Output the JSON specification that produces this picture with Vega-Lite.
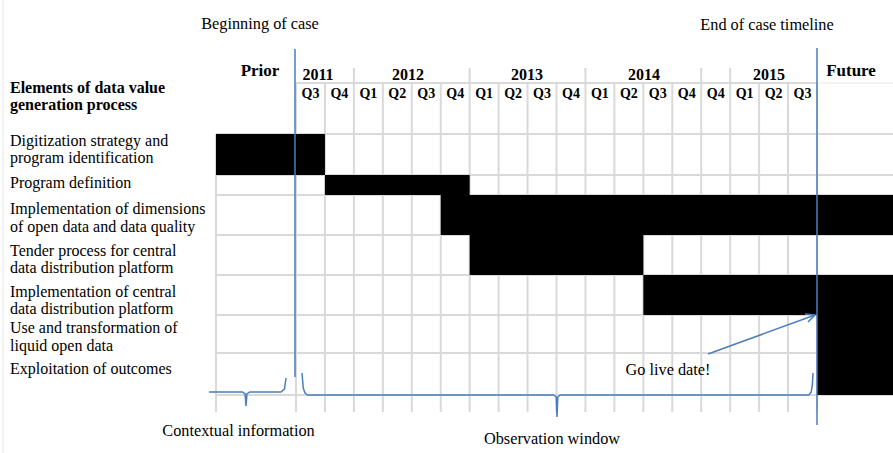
{
  "$schema": "https://vega.github.io/schema/vega-lite/v6.json",
  "width": 893,
  "height": 453,
  "padding": 0,
  "autosize": {"type": "none"},
  "background": "white",
  "config": {"view": {"stroke": null}, "text": {"font": "Liberation Serif", "color": "black"}},
  "datasets": {
    "grid": [
      {"x": -2.764, "x2": -2.764, "y": 134, "y2": 412},
      {"x": 0, "x2": 0, "y": 83, "y2": 412},
      {"x": 1, "x2": 1, "y": 83, "y2": 412},
      {"x": 2, "x2": 2, "y": 68, "y2": 412},
      {"x": 3, "x2": 3, "y": 83, "y2": 412},
      {"x": 4, "x2": 4, "y": 83, "y2": 412},
      {"x": 5, "x2": 5, "y": 83, "y2": 412},
      {"x": 6, "x2": 6, "y": 68, "y2": 412},
      {"x": 7, "x2": 7, "y": 83, "y2": 412},
      {"x": 8, "x2": 8, "y": 83, "y2": 412},
      {"x": 9, "x2": 9, "y": 83, "y2": 412},
      {"x": 10, "x2": 10, "y": 68, "y2": 412},
      {"x": 11, "x2": 11, "y": 83, "y2": 412},
      {"x": 12, "x2": 12, "y": 83, "y2": 412},
      {"x": 13, "x2": 13, "y": 83, "y2": 412},
      {"x": 14, "x2": 14, "y": 68, "y2": 412},
      {"x": 15, "x2": 15, "y": 68, "y2": 412},
      {"x": 16, "x2": 16, "y": 83, "y2": 412},
      {"x": 17, "x2": 17, "y": 83, "y2": 412},
      {"x": 18, "x2": 18, "y": 83, "y2": 412},
      {"x": 0, "x2": 18, "y": 83, "y2": 83},
      {"x": -2.764, "x2": 20.626, "y": 134, "y2": 134},
      {"x": -2.764, "x2": 20.626, "y": 175, "y2": 175},
      {"x": -2.764, "x2": 20.626, "y": 195, "y2": 195},
      {"x": -2.764, "x2": 20.626, "y": 235, "y2": 235},
      {"x": -2.764, "x2": 20.626, "y": 275, "y2": 275},
      {"x": -2.764, "x2": 20.626, "y": 315, "y2": 315},
      {"x": -2.764, "x2": 20.626, "y": 353, "y2": 353},
      {"x": -2.764, "x2": 20.626, "y": 395, "y2": 395}
    ],
    "faint": [
      {"x": 18, "x2": 20.626, "y": 83, "y2": 83},
      {"x": -10.123, "x2": -10.123, "y": 0, "y2": 453}
    ],
    "tasks": [
      {"task": "Digitization strategy and program identification", "start": -2.764, "end": 1, "top": 134, "bottom": 175},
      {"task": "Program definition", "start": 1, "end": 6, "top": 175, "bottom": 195},
      {"task": "Implementation of dimensions of open data and data quality", "start": 5, "end": 20.626, "top": 195, "bottom": 235},
      {"task": "Tender process for central data distribution platform", "start": 6, "end": 12, "top": 235, "bottom": 275},
      {"task": "Implementation of central data distribution platform", "start": 12, "end": 20.626, "top": 275, "bottom": 315},
      {"task": "Use and transformation of liquid open data", "start": 18, "end": 20.626, "top": 315, "bottom": 353},
      {"task": "Exploitation of outcomes", "start": 18, "end": 20.626, "top": 353, "bottom": 395}
    ],
    "markers": [
      {"name": "Beginning of case", "x": -0.035, "y": 49, "y2": 377},
      {"name": "End of case timeline", "x": 18, "y": 48, "y2": 425}
    ],
    "shapes": [
      {"shape": "context", "i": 0, "x": -3.006, "y": 392},
      {"shape": "context", "i": 1, "x": -1.85, "y": 392},
      {"shape": "context", "i": 2, "x": -1.76, "y": 394},
      {"shape": "context", "i": 3, "x": -1.727, "y": 406},
      {"shape": "context", "i": 4, "x": -1.694, "y": 394},
      {"shape": "context", "i": 5, "x": -1.6, "y": 392},
      {"shape": "context", "i": 6, "x": -0.52, "y": 392},
      {"shape": "context", "i": 7, "x": -0.4, "y": 389},
      {"shape": "context", "i": 8, "x": -0.345, "y": 378},
      {"shape": "window", "i": 0, "x": 0.207, "y": 373},
      {"shape": "window", "i": 1, "x": 0.25, "y": 388},
      {"shape": "window", "i": 2, "x": 0.311, "y": 393},
      {"shape": "window", "i": 3, "x": 0.4, "y": 395},
      {"shape": "window", "i": 4, "x": 8.9, "y": 395},
      {"shape": "window", "i": 5, "x": 8.99, "y": 397},
      {"shape": "window", "i": 6, "x": 9.017, "y": 417},
      {"shape": "window", "i": 7, "x": 9.045, "y": 397},
      {"shape": "window", "i": 8, "x": 9.13, "y": 395},
      {"shape": "window", "i": 9, "x": 17.72, "y": 395},
      {"shape": "window", "i": 10, "x": 17.8, "y": 392},
      {"shape": "window", "i": 11, "x": 17.84, "y": 385},
      {"shape": "window", "i": 12, "x": 17.862, "y": 373},
      {"shape": "arrow", "i": 0, "x": 14.234, "y": 354},
      {"shape": "arrow", "i": 1, "x": 17.931, "y": 315},
      {"shape": "head", "i": 0, "x": 17.586, "y": 314},
      {"shape": "head", "i": 1, "x": 17.931, "y": 315},
      {"shape": "head", "i": 2, "x": 17.689, "y": 322}
    ],
    "rowLabels": [
      {"text": "Digitization  strategy and", "x": -9.882, "y": 146},
      {"text": "program identification", "x": -9.882, "y": 163},
      {"text": "Program definition", "x": -9.882, "y": 188},
      {"text": "Implementation  of dimensions", "x": -9.882, "y": 214},
      {"text": "of open data and data quality", "x": -9.882, "y": 232},
      {"text": "Tender process for central", "x": -9.882, "y": 256},
      {"text": "data distribution  platform", "x": -9.882, "y": 273},
      {"text": "Implementation  of central", "x": -9.882, "y": 297},
      {"text": "data distribution  platform", "x": -9.882, "y": 314},
      {"text": "Use and transformation of", "x": -9.882, "y": 333},
      {"text": "liquid  open data", "x": -9.882, "y": 351},
      {"text": "Exploitation  of outcomes", "x": -9.882, "y": 374}
    ],
    "notes": [
      {"text": "Beginning  of case", "x": -1.244, "y": 29},
      {"text": "End of case timeline", "x": 16.273, "y": 30},
      {"text": "Go live  date!", "x": 12.852, "y": 375},
      {"text": "Contextual information", "x": -1.987, "y": 436},
      {"text": "Observation window", "x": 8.845, "y": 444}
    ],
    "header": [
      {"text": "Elements of data value", "x": -9.882, "y": 93},
      {"text": "generation process", "x": -9.882, "y": 110}
    ],
    "periods": [
      {"text": "Prior", "x": -1.244, "y": 76},
      {"text": "Future", "x": 19.175, "y": 76}
    ],
    "years": [
      {"text": "2011", "x": 0.76, "y": 80},
      {"text": "2012", "x": 3.87, "y": 80},
      {"text": "2013", "x": 7.98, "y": 80},
      {"text": "2014", "x": 12.02, "y": 80},
      {"text": "2015", "x": 16.34, "y": 80}
    ],
    "quarters": [
      {"text": "Q3", "x": 0.5}, {"text": "Q4", "x": 1.5}, {"text": "Q1", "x": 2.5},
      {"text": "Q2", "x": 3.5}, {"text": "Q3", "x": 4.5}, {"text": "Q4", "x": 5.5},
      {"text": "Q1", "x": 6.5}, {"text": "Q2", "x": 7.5}, {"text": "Q3", "x": 8.5},
      {"text": "Q4", "x": 9.5}, {"text": "Q1", "x": 10.5}, {"text": "Q2", "x": 11.5},
      {"text": "Q3", "x": 12.5}, {"text": "Q4", "x": 13.5}, {"text": "Q4", "x": 14.5},
      {"text": "Q1", "x": 15.5}, {"text": "Q2", "x": 16.5}, {"text": "Q3", "x": 17.5}
    ]
  },
  "layer": [
    {
      "data": {"name": "grid"},
      "mark": {"type": "rule", "color": "#d9d9d9", "strokeWidth": 2},
      "encoding": {
        "x": {"field": "x", "type": "quantitative", "scale": {"domain": [-10.227, 20.626], "nice": false, "zero": false}, "axis": null},
        "x2": {"field": "x2"},
        "y": {"field": "y", "type": "quantitative", "scale": {"domain": [0, 453], "reverse": true, "nice": false, "zero": false}, "axis": null},
        "y2": {"field": "y2"}
      }
    },
    {
      "data": {"name": "faint"},
      "mark": {"type": "rule", "color": "#e6e6e6", "strokeWidth": 1},
      "encoding": {
        "x": {"field": "x", "type": "quantitative", "axis": null},
        "x2": {"field": "x2"},
        "y": {"field": "y", "type": "quantitative", "axis": null},
        "y2": {"field": "y2"}
      }
    },
    {
      "data": {"name": "tasks"},
      "mark": {"type": "rect", "color": "black"},
      "encoding": {
        "x": {"field": "start", "type": "quantitative", "axis": null},
        "x2": {"field": "end"},
        "y": {"field": "top", "type": "quantitative", "axis": null},
        "y2": {"field": "bottom"}
      }
    },
    {
      "data": {"name": "markers"},
      "mark": {"type": "rule", "color": "#4a7ebb", "strokeWidth": 1.5},
      "encoding": {
        "x": {"field": "x", "type": "quantitative", "axis": null},
        "y": {"field": "y", "type": "quantitative", "axis": null},
        "y2": {"field": "y2"}
      }
    },
    {
      "data": {"name": "shapes"},
      "mark": {"type": "line", "color": "#4a7ebb", "strokeWidth": 1.5},
      "encoding": {
        "x": {"field": "x", "type": "quantitative", "axis": null},
        "y": {"field": "y", "type": "quantitative", "axis": null},
        "detail": {"field": "shape"},
        "order": {"field": "i", "type": "quantitative"}
      }
    },
    {
      "data": {"name": "rowLabels"},
      "mark": {"type": "text", "align": "left", "baseline": "alphabetic", "fontSize": 16},
      "encoding": {
        "x": {"field": "x", "type": "quantitative", "axis": null},
        "y": {"field": "y", "type": "quantitative", "axis": null},
        "text": {"field": "text"}
      }
    },
    {
      "data": {"name": "notes"},
      "mark": {"type": "text", "align": "center", "baseline": "alphabetic", "fontSize": 16.3},
      "encoding": {
        "x": {"field": "x", "type": "quantitative", "axis": null},
        "y": {"field": "y", "type": "quantitative", "axis": null},
        "text": {"field": "text"}
      }
    },
    {
      "data": {"name": "header"},
      "mark": {"type": "text", "align": "left", "baseline": "alphabetic", "fontSize": 16, "fontWeight": "bold"},
      "encoding": {
        "x": {"field": "x", "type": "quantitative", "axis": null},
        "y": {"field": "y", "type": "quantitative", "axis": null},
        "text": {"field": "text"}
      }
    },
    {
      "data": {"name": "periods"},
      "mark": {"type": "text", "align": "center", "baseline": "alphabetic", "fontSize": 17, "fontWeight": "bold"},
      "encoding": {
        "x": {"field": "x", "type": "quantitative", "axis": null},
        "y": {"field": "y", "type": "quantitative", "axis": null},
        "text": {"field": "text"}
      }
    },
    {
      "data": {"name": "years"},
      "mark": {"type": "text", "align": "center", "baseline": "alphabetic", "fontSize": 16, "fontWeight": "bold"},
      "encoding": {
        "x": {"field": "x", "type": "quantitative", "axis": null},
        "y": {"field": "y", "type": "quantitative", "axis": null},
        "text": {"field": "text"}
      }
    },
    {
      "data": {"name": "quarters"},
      "mark": {"type": "text", "align": "center", "baseline": "alphabetic", "fontSize": 14, "fontWeight": "bold", "y": 98},
      "encoding": {
        "x": {"field": "x", "type": "quantitative", "axis": null},
        "text": {"field": "text"}
      }
    }
  ]
}
